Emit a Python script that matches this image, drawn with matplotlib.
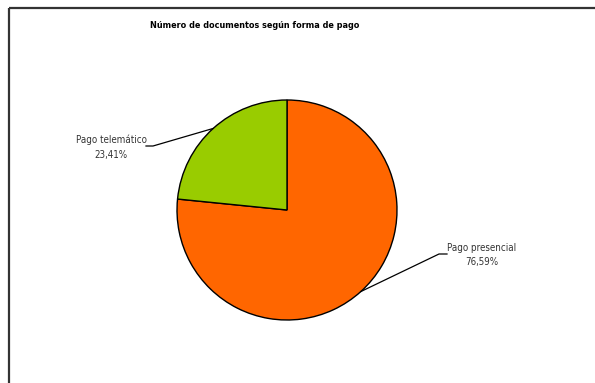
import numpy as np
import matplotlib
matplotlib.use("Agg")
import matplotlib.pyplot as plt
from matplotlib.patches import Rectangle

labels = ["Pago presencial", "Pago telemático"]
shares = [76.59, 23.41]
colors = ["#FF6600", "#99CC00"]
title = "Número de documentos según forma de pago"

W, H = 595, 383
plt.rcParams["font.family"] = ["DejaVu Sans"]
plt.rcParams["font.stretch"] = "condensed"

fig = plt.figure(figsize=(W / 100, H / 100), dpi=100)
ax = fig.add_axes([0, 0, 1, 1])

# frame (only top/left visible, rest runs off the image)
ax.add_patch(Rectangle((9, 8), 700, 500, fill=False, edgecolor="#333333", lw=1.6))

cx, cy, r = 287, 210, 110
# y axis is inverted, so counterclock=True draws clockwise on screen
wedges, _ = ax.pie(shares, colors=colors, startangle=-90, counterclock=True,
                   center=(cx, cy), radius=r,
                   wedgeprops=dict(edgecolor="black", linewidth=1.0), frame=True)
ax.set_xlim(0, W)
ax.set_ylim(H, 0)
ax.axis("off")
ax.set_aspect("auto")

# label anchors (text side of leader line), in pixels
anchors = [(439, 254, "left"), (153, 146, "right")]
for w, lab, val, (tx, ty, side) in zip(wedges, labels, shares, anchors):
    ang = np.deg2rad((w.theta1 + w.theta2) / 2)
    ex, ey = cx + r * np.cos(ang), cy + r * np.sin(ang)
    hx = tx + 8 if side == "left" else tx - 7
    ax.plot([ex, tx, hx], [ey, ty, ty], color="black", lw=0.9)
    txt = f"{lab}\n{val:.2f}%".replace(".", ",")
    x_center = 482 if side == "left" else 111
    ax.text(x_center, ty + 1, txt, ha="center", va="center", fontsize=7,
            color="#333333", linespacing=1.6)

ax.text(255, 26, title, ha="center", va="center", fontsize=6.5,
        fontweight="bold", color="black")

fig.savefig("out.png", dpi=100)
